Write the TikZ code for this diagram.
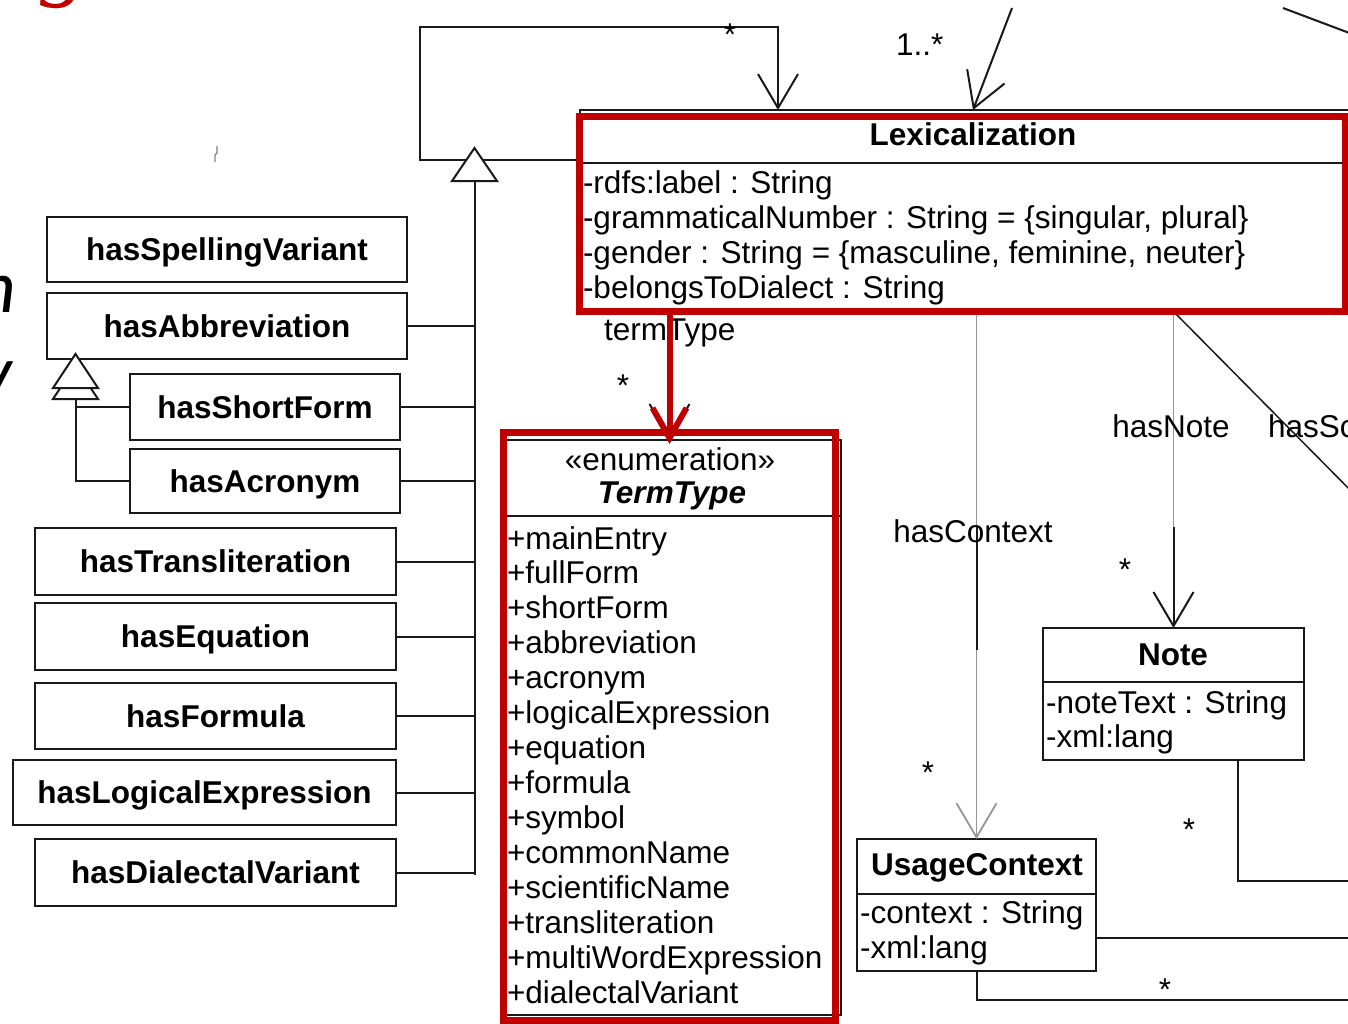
\documentclass[tikz,border=0pt]{standalone}
\usepackage{fontspec}
\setmainfont{Liberation Sans}
\newfontfamily\slidefont{Carlito}
\newfontfamily\slideserif{Liberation Serif}
\usetikzlibrary{arrows.meta}
\definecolor{hl}{RGB}{192,0,0}
\definecolor{ink}{RGB}{25,25,25}
\definecolor{pale}{RGB}{150,150,150}
\begin{document}
\begin{tikzpicture}[x=1pt,y=-1pt,
  every node/.style={font=\fontsize{31.5}{35}\selectfont, inner sep=0pt, outer sep=0pt, text=black},
  relbox/.style={draw=ink, line width=2.2pt, font=\fontsize{31.5}{35}\selectfont\bfseries,
                 text height=22.5pt, text depth=0pt},
  frame/.style={draw=ink, line width=2pt},
  conn/.style={draw=ink, line width=2pt},
  assoc/.style={conn, -{Straight Barb[length=34pt,width=40pt]}},
  paleconn/.style={draw=pale, line width=1.8pt},
  hlbox/.style={draw=hl, line width=7pt},
  attr/.style={anchor=base west},
  ttl/.style={anchor=base, font=\fontsize{31.5}{35}\selectfont\bfseries},
  mult/.style={anchor=base},
]
\useasboundingbox (0,0) rectangle (1348,1023);
\clip (0,0) rectangle (1348,1023);

% ---------- fragments of the slide text around the diagram ----------
\node[font=\slideserif\itshape\fontsize{95}{95}\selectfont, text=hl, anchor=base west] (slg) at (40,-12) {g};
\node[font=\slidefont\itshape\fontsize{75}{80}\selectfont, anchor=base west] (sln) at (-22,312) {n};
\node[font=\slidefont\itshape\fontsize{75}{80}\selectfont, anchor=base west] (sly) at (-21,397) {y};
\draw[black!50, line width=1.2pt] (217,146) -- (217,153) -- (215,155) -- (215,162);

% ---------- helper rows / columns ----------
\coordinate (rowLoop) at (0,160);
\coordinate (rowLoopTop) at (0,27);
\coordinate (colLoopL) at (420,0);
\coordinate (colLoopR) at (778,0);
\coordinate (colMany) at (973,0);
\coordinate (colTerm) at (669.5,0);
\coordinate (colNoteOut) at (1238,0);
\coordinate (colSc) at (1174,0);
\coordinate (genTip) at (474.5,148);
\coordinate (trunkTop) at (474.5,181);
\coordinate (trunkEnd) at (474.5,875);
\coordinate (subTip) at (75.5,354);
\coordinate (subBase) at (75.5,399);

% ---------- relation-kind boxes ----------
\node[relbox, minimum width=360pt, minimum height=65pt] (sv) at (227,249.5) {hasSpellingVariant};
\node[relbox, minimum width=360pt, minimum height=66pt] (ab) at (227,326) {hasAbbreviation};
\node[relbox, minimum width=270pt, minimum height=66pt] (sf) at (265,407) {hasShortForm};
\node[relbox, minimum width=270pt, minimum height=64pt] (ac) at (265,481) {hasAcronym};
\node[relbox, minimum width=361pt, minimum height=67pt] (tr) at (215.5,561.5) {hasTransliteration};
\node[relbox, minimum width=361pt, minimum height=67pt] (eq) at (215.5,636.5) {hasEquation};
\node[relbox, minimum width=361pt, minimum height=66pt] (fo) at (215.5,716) {hasFormula};
\node[relbox, minimum width=383pt, minimum height=65pt] (le) at (204.5,792.5) {hasLogicalExpression};
\node[relbox, minimum width=361pt, minimum height=67pt] (dv) at (215.5,872.5) {hasDialectalVariant};

% generalization trunk
\draw[conn] (trunkTop) -- (trunkEnd);
\foreach \n in {ab,sf,ac,tr,eq,fo,le,dv}
  \draw[conn] (\n.east) -- (\n.east -| trunkTop);

% hasShortForm / hasAcronym specialize hasAbbreviation
\draw[conn] (subBase) |- (ac.west);
\draw[conn] (sf.west -| subTip) -- (sf.west);
\draw[conn, fill=white] (75.5,365) -- (98,399) -- (53,399) -- cycle;
\draw[conn, fill=white] (subTip) -- (98,388) -- (53,388) -- cycle;

% ---------- Lexicalization ----------
\node[frame, minimum width=820pt, minimum height=202pt, anchor=north west] (lex) at (580,110) {};
\draw[frame] (lex.west |- 0,163) -- (lex.east |- 0,163);
\node[ttl] (lexT) at (973,145) {Lexicalization};
\node[attr] (la1) at (583,193) {-rdfs:label : String};
\node[attr] (la2) at (583,228) {-grammaticalNumber : String = \{singular, plural\}};
\node[attr] (la3) at (583,263) {-gender : String = \{masculine, feminine, neuter\}};
\node[attr] (la4) at (583,298) {-belongsToDialect : String};

% self association of Lexicalization
\draw[assoc] (lex.west |- rowLoop) -- (colLoopL |- rowLoop) -- (colLoopL |- rowLoopTop)
  -- (colLoopR |- rowLoopTop) -- (lex.north -| colLoopR);
\node[mult] (mLoop) at (730,45) {*};
\draw[conn, fill=white] (genTip) -- (497,181) -- (452,181) -- cycle;

% incoming associations from above
\coordinate (inA) at (1012,8);
\draw[assoc] (inA) -- (lex.north -| colMany);
\node[attr] (mMany) at (896,55) {1..*};
\coordinate (inC1) at (1283,8);
\coordinate (inC2) at (1360,37);
\draw[conn] (inC1) -- (inC2);

% ---------- TermType enumeration ----------
\node[frame, minimum width=336pt, minimum height=575pt, anchor=north west] (tt) at (505,440) {};
\draw[frame] (tt.west |- 0,516) -- (tt.east |- 0,516);
\node[anchor=base] (ttS) at (670,470) {«enumeration»};
\node[anchor=base, font=\fontsize{31.5}{35}\selectfont\bfseries\itshape] (ttT) at (672,503) {TermType};
\foreach \t [count=\i from 0] in {mainEntry,fullForm,shortForm,abbreviation,acronym,
    logicalExpression,equation,formula,symbol,commonName,scientificName,
    transliteration,multiWordExpression,dialectalVariant}
  \node[attr] (tti\i) at (507,{549+34.95*\i}) {+\t};

% ---------- UsageContext ----------
\node[frame, minimum width=239pt, minimum height=132pt, anchor=north west] (uc) at (857,839) {};
\draw[frame] (uc.west |- 0,894) -- (uc.east |- 0,894);
\node[ttl] (ucT) at (977,875) {UsageContext};
\node[attr] (uca1) at (860,923) {-context : String};
\node[attr] (uca2) at (860,958) {-xml:lang};

% ---------- Note ----------
\node[frame, minimum width=261pt, minimum height=132pt, anchor=north west] (note) at (1043,628) {};
\draw[frame] (note.west |- 0,682) -- (note.east |- 0,682);
\node[ttl] (noteT) at (1173,665) {Note};
\node[attr] (na1) at (1046,713) {-noteText : String};
\node[attr] (na2) at (1046,747) {-xml:lang};

% ---------- associations leaving Lexicalization ----------
% hasContext
\draw[paleconn, -{Straight Barb[length=34pt,width=40pt]}] (lex.south -| uc.north) -- (uc.north);
\draw[conn] (uc.north |- 0,527) -- (uc.north |- 0,650);
\node[anchor=base] (lHasContext) at (973,542) {hasContext};
\node[mult] (mCtx) at (928,783) {*};

% hasNote
\draw[paleconn] (lex.south -| note.north) -- (note.north |- 0,527);
\draw[assoc] (note.north |- 0,527) -- (note.north);
\node[anchor=base] (lHasNote) at (1171,437) {hasNote};
\node[mult] (mNote) at (1125,580) {*};

% hasSc... leaving to the right
\coordinate (scOut) at (1360,500);
\draw[conn, line width=1.5pt] (lex.south -| colSc) -- (scOut);
\node[attr] (lHasSc) at (1268,437) {hasSc};

% termType (black original, then highlighted)
\draw[assoc] (lex.south -| colTerm) -- (tt.north -| colTerm);
\node[attr] (lTermType) at (604,340) {termType};
\node[mult] (mTerm) at (623,396) {*};

% links running off to the right
\coordinate (outNote) at (1360,881);
\coordinate (outUc1) at (1360,938);
\coordinate (outUc2) at (1360,1000);
\draw[conn] (note.south -| colNoteOut) |- (outNote);
\node[mult] (mNoteOut) at (1189,840) {*};
\draw[conn] (uc.east |- outUc1) -- (outUc1);
\draw[conn] (uc.south) |- (outUc2);
\node[mult] (mUcOut) at (1165,1000) {*};

% ---------- highlights ----------
\draw[hlbox] (579.5,116.5) rectangle (1345,311.5);
\draw[hlbox] (503.5,432.5) rectangle (835.5,1020);
\draw[hl, line width=6pt, line cap=round, -{Straight Barb[length=30pt,width=34pt]}]
  (lex.south -| colTerm) -- ([yshift=-4pt]tt.north -| colTerm);
\end{tikzpicture}
\end{document}
